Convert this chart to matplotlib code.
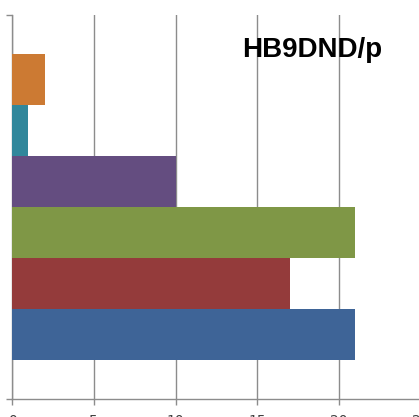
import matplotlib
matplotlib.use("Agg")
import matplotlib.pyplot as plt
import numpy as np

# series, bottom to top (Excel draws series 1 at the bottom)
series = ["Series1", "Series2", "Series3", "Series4", "Series5", "Series6"]
values = [21, 17, 21, 10, 1, 2]
colors = ["#3e6497", "#943b3b", "#7f9746", "#644d80", "#31879b", "#cc7a33"]
xticks = [0, 5, 10, 15, 20, 25]
title = "HB9DND/p"

GRID = "#8c8c8c"

fig = plt.figure(figsize=(4.19, 4.17), dpi=100)
ax = fig.add_axes([12 / 419, 18 / 417, 408.75 / 419, 384 / 417])

bh = 51 / 384
pos = 0.5 + (np.arange(len(values)) - (len(values) - 1) / 2) * bh
ax.barh(pos, values, height=bh, color=colors, zorder=3, linewidth=0)

ax.set_xlim(0, 25)
ax.set_ylim(0, 1)
ax.set_xticks(xticks)
ax.set_xticklabels([str(t) for t in xticks])
ax.set_yticks([0, 1])
ax.set_yticklabels([])
ax.grid(axis="x", color=GRID, linewidth=1.0, zorder=1)
ax.tick_params(axis="x", length=4, width=1.0, color=GRID, pad=7,
               labelsize=10, labelcolor="#404040")
ax.tick_params(axis="y", length=4, width=1.0, color=GRID)
for s in ("top", "right"):
    ax.spines[s].set_visible(False)
for s in ("left", "bottom"):
    ax.spines[s].set_color(GRID)
    ax.spines[s].set_linewidth(1.0)

fig.text(312 / 419, 1 - 50 / 417, title, ha="center", va="center",
         fontsize=20, fontweight="bold", family=["Liberation Sans", "DejaVu Sans"])

fig.savefig("out.png", dpi=100, facecolor="white")
